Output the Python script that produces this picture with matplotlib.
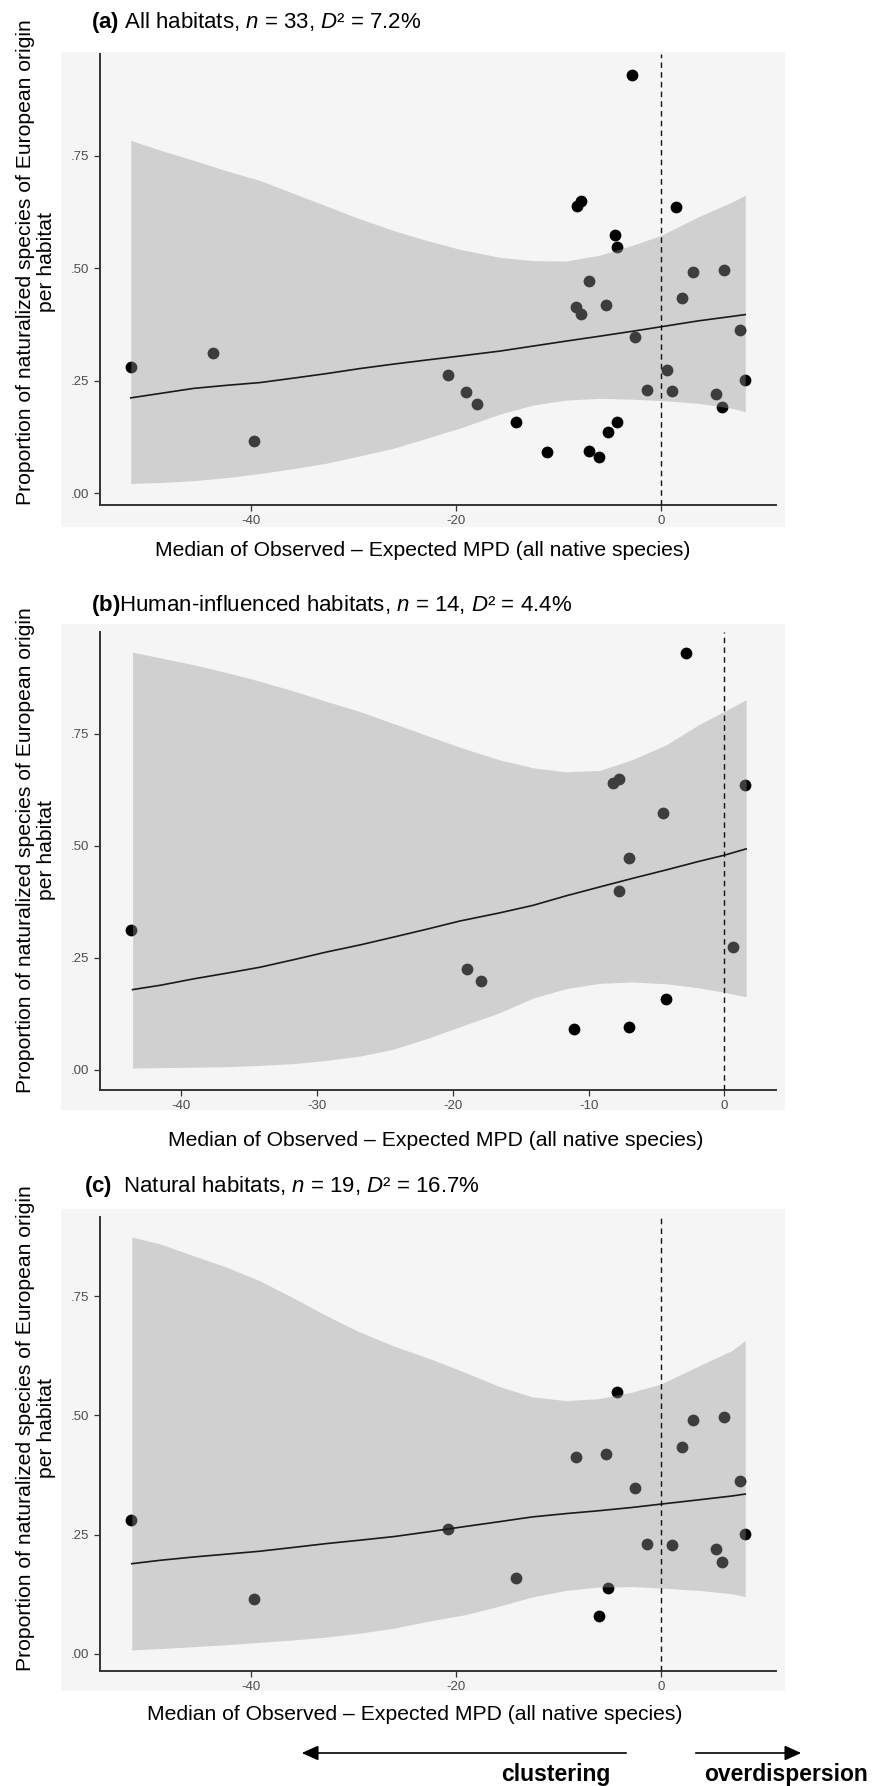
import matplotlib
matplotlib.use("Agg")
import matplotlib.pyplot as plt
from matplotlib.patches import Rectangle, FancyArrowPatch

plt.rcParams['font.family'] = ['Liberation Sans', 'DejaVu Sans']
plt.rcParams['mathtext.fontset'] = 'custom'
plt.rcParams['mathtext.rm'] = 'Liberation Sans'
plt.rcParams['mathtext.it'] = 'Liberation Sans:italic'
plt.rcParams['mathtext.bf'] = 'Liberation Sans:bold'

# ---------------- data ----------------
mpd = [-51.7, -43.7, -39.7, -20.8, -19.0, -17.9, -14.1, -11.1, -8.2, -7.8, -8.3,
       -7.8, -7.0, -7.0, -6.1, -5.4, -5.2, -4.5, -4.3, -4.3, -2.8, -2.5, -1.4,
       0.6, 1.05, 1.5, 2.0, 3.15, 5.35, 5.95, 6.1, 7.7, 8.2]
prop = [0.281, 0.312, 0.116, 0.262, 0.225, 0.199, 0.159, 0.091, 0.639, 0.649, 0.413,
        0.399, 0.472, 0.095, 0.080, 0.419, 0.137, 0.573, 0.548, 0.159, 0.930, 0.347, 0.230,
        0.275, 0.228, 0.636, 0.433, 0.491, 0.220, 0.192, 0.497, 0.362, 0.251]
habitat = ['N', 'H', 'N', 'N', 'H', 'H', 'N', 'H', 'H', 'H', 'N',
           'H', 'H', 'H', 'N', 'N', 'N', 'H', 'N', 'H', 'H', 'N', 'N',
           'H', 'N', 'H', 'N', 'N', 'N', 'N', 'N', 'N', 'N']

# fitted curve and confidence band
grid_a = [-51.7, -48.8, -45.6, -42.3, -39.1, -35.8, -32.6, -29.4, -26.1, -22.9,
          -19.6, -15.7, -12.5, -9.3, -6.0, -2.8, 0.0, 3.6, 6.9, 8.2]
upper_a = [.784, .762, .740, .716, .695, .666, .638, .610, .584, .562,
           .542, .524, .517, .516, .529, .551, .573, .614, .647, .662]
lower_a = [.022, .024, .028, .035, .044, .055, .067, .083, .100, .122,
           .145, .176, .196, .207, .211, .209, .206, .200, .189, .181]
fit_a = [.212, .222, .233, .240, .246, .256, .266, .277, .287, .296,
         .305, .316, .327, .338, .349, .360, .370, .383, .393, .397]

grid_b = [-43.6, -41.5, -39.1, -36.6, -34.2, -31.7, -29.3, -26.8, -24.4, -21.9,
          -19.5, -16.6, -14.1, -11.7, -9.2, -6.8, -4.3, -1.9, 0.0, 1.6]
upper_b = [.932, .919, .904, .886, .867, .845, .822, .799, .773, .746,
           .720, .692, .674, .665, .668, .692, .725, .770, .800, .826]
lower_b = [.004, .005, .006, .007, .010, .014, .021, .031, .046, .070,
           .096, .127, .160, .181, .193, .196, .192, .183, .173, .163]
fit_b = [.179, .189, .203, .216, .229, .246, .263, .279, .296, .314,
         .332, .350, .367, .388, .408, .427, .446, .465, .479, .493]

grid_c = [-51.6, -48.9, -45.6, -42.4, -39.2, -35.9, -32.7, -29.5, -26.0, -22.3,
          -19.1, -15.8, -12.6, -9.3, -6.1, -2.8, 0.0, 3.7, 6.9, 8.2]
upper_c = [.874, .860, .835, .811, .783, .747, .710, .676, .645, .617,
           .590, .561, .539, .531, .535, .549, .566, .604, .636, .657]
lower_c = [.008, .011, .015, .019, .024, .029, .035, .043, .054, .070,
           .082, .100, .119, .133, .140, .141, .138, .133, .126, .120]
fit_c = [.189, .196, .203, .209, .215, .223, .231, .238, .246, .257,
         .267, .277, .287, .294, .300, .307, .314, .323, .331, .335]

titles = [r"$\mathbf{(a)}$ All habitats, $\mathit{n}$ = 33, $\mathit{D}$² = 7.2%",
          r"$\mathbf{(b)}$Human-influenced habitats, $\mathit{n}$ = 14, $\mathit{D}$² = 4.4%",
          r"$\mathbf{(c)}$  Natural habitats, $\mathit{n}$ = 19, $\mathit{D}$² = 16.7%"]
xticks_a = [-40, -20, 0]
xticks_b = [-40, -30, -20, -10, 0]
yticks = [0.0, 0.25, 0.5, 0.75]
ytick_labels = ['.00', '.25', '.50', '.75']
xlabel = "Median of Observed \u2013 Expected MPD (all native species)"
ylabel = "Proportion of naturalized species of European origin\nper habitat"

# ---------------- figure ----------------
W, H = 882, 1786
fig = plt.figure(figsize=(W / 100, H / 100), dpi=100)
BG = '#f5f5f5'


def fx(px):
    return px / W


def fy(py):
    return 1 - py / H


def panel(ax_box, bg_box, xlim, ylim, xticks, sel, grid, up, lo, fit,
          title, title_xy, xlab_xy, ylab_y):
    l, t, r, b = ax_box
    bl, bt, br, bb = bg_box
    fig.patches.append(Rectangle((fx(bl), fy(bb)), fx(br - bl), (bb - bt) / H,
                                 transform=fig.transFigure, facecolor=BG,
                                 edgecolor='none', zorder=-5))
    ax = fig.add_axes([fx(l), fy(b), fx(r - l), (b - t) / H])
    ax.set_zorder(2)
    ax.set_facecolor(BG)
    xs = [x for x, h in zip(mpd, habitat) if h in sel]
    ys = [y for y, h in zip(prop, habitat) if h in sel]
    ax.scatter(xs, ys, s=72, color='black', linewidths=0, zorder=2)
    ax.fill_between(grid, lo, up, color='#999999', alpha=0.4, linewidth=0, zorder=3)
    ax.plot(grid, fit, color='#1a1a1a', lw=1.2, zorder=4)
    ax.axvline(0, color='#111111', lw=1.0, ls=(0, (4, 3)), zorder=5)
    ax.set_xlim(*xlim)
    ax.set_ylim(*ylim)
    ax.set_xticks(xticks)
    ax.set_xticklabels([str(v) for v in xticks])
    ax.set_yticks(yticks)
    ax.set_yticklabels(ytick_labels)
    for s in ['top', 'right']:
        ax.spines[s].set_visible(False)
    for s in ['left', 'bottom']:
        ax.spines[s].set_color('#333333')
        ax.spines[s].set_linewidth(1.4)
    ax.tick_params(axis='both', colors='#333333', length=4.5, width=0.9,
                   labelsize=9.5, labelcolor='#4d4d4d', pad=3)
    fig.text(fx(title_xy[0]), fy(title_xy[1]), title, fontsize=16,
             ha='left', va='baseline', color='black')
    fig.text(fx(xlab_xy[0]), fy(xlab_xy[1]), xlabel, fontsize=15.2,
             ha='center', va='center', color='black')
    fig.text(fx(36), fy(ylab_y), ylabel, fontsize=15.2, rotation=90,
             ha='center', va='center', multialignment='center',
             linespacing=1.1, color='black')
    return ax


panel((100, 54, 776, 505), (61, 52, 785, 527), (-54.7, 11.2), (-0.026, 0.976),
      xticks_a, 'NH', grid_a, upper_a, lower_a, fit_a,
      titles[0], (91, 28), (423, 550), 262)
panel((100, 632, 776, 1090), (61, 624, 785, 1110), (-46.0, 3.8), (-0.045, 0.977),
      xticks_b, 'H', grid_b, upper_b, lower_b, fit_b,
      titles[1], (91, 611), (436, 1140), 850)
panel((100, 1217, 776, 1671), (61, 1209, 785, 1691), (-54.7, 11.2), (-0.036, 0.916),
      xticks_a, 'N', grid_c, upper_c, lower_c, fit_c,
      titles[2], (84, 1192), (415, 1715), 1428)

# direction arrows and labels
arrow_y = 1753
for x0, x1 in [(629, 299), (693, 804)]:
    fig.patches.append(FancyArrowPatch((fx(x0), fy(arrow_y)), (fx(x1), fy(arrow_y)),
                                       transform=fig.transFigure,
                                       arrowstyle='-|>,head_length=10,head_width=4.5',
                                       mutation_scale=1, color='black', lw=1.2))
fig.text(fx(556), fy(1781), 'clustering', fontsize=16.5, fontweight='bold',
         ha='center', va='baseline')
fig.text(fx(786), fy(1781), 'overdispersion', fontsize=16.5, fontweight='bold',
         ha='center', va='baseline')

fig.savefig('out.png', dpi=100, facecolor='white')
